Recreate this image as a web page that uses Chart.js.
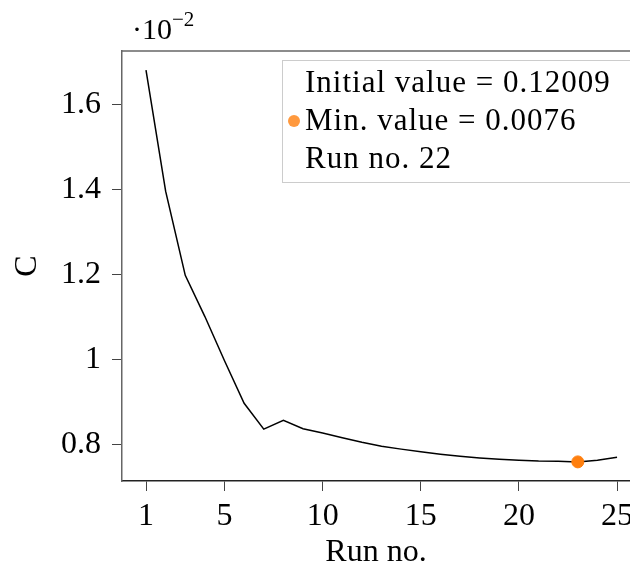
<!DOCTYPE html>
<html>
<head>
<meta charset="utf-8">
<script src="https://cdn.jsdelivr.net/npm/chart.js@4.4.1/dist/chart.umd.min.js"></script>
<style>
  html, body { margin: 0; padding: 0; background: #fff; }
  canvas { display: block; }
</style>
</head>
<body>
<canvas id="cost-chart" width="630" height="572"></canvas>
<script>
// cost per run, in units of 10^-2
var runs = [1, 2, 3, 4, 5, 6, 7, 8, 9, 10, 11, 12, 13, 14, 15, 16, 17, 18, 19, 20, 21, 22, 23, 24, 25];
var costValues = [1.682, 1.397, 1.199, 1.102, 0.998, 0.898, 0.837, 0.858, 0.838, 0.828,
                  0.817, 0.806, 0.797, 0.790, 0.784, 0.778, 0.773, 0.769, 0.766, 0.764,
                  0.762, 0.7615, 0.760, 0.764, 0.771];
var xTicks = [1, 5, 10, 15, 20, 25];
var yTicks = [0.8, 1, 1.2, 1.4, 1.6];
var exponent = -2;

var initialValue = 0.12009;
var minValue = 0.0076;
var minRunIndex = 22;

var serif = "'Liberation Serif', 'DejaVu Serif', serif";

function fixedTicks(list) {
  return function(scale) {
    scale.ticks = list.map(function(v) { return { value: v }; });
  };
}

// legend box drawn inside the plot, top right
var boxLegend = {
  id: 'boxLegend',
  afterDraw: function(chart) {
    var ctx = chart.ctx;
    var area = chart.chartArea;
    var left = area.left + 160;
    var top = area.top + 9;
    var lines = [
      'Initial value = ' + initialValue,
      'Min. value = ' + minValue,
      'Run no. ' + minRunIndex
    ];
    ctx.save();
    ctx.fillStyle = 'rgba(255,255,255,0.8)';
    ctx.fillRect(left, top, 360, 122);
    ctx.strokeStyle = '#cccccc';
    ctx.lineWidth = 1;
    ctx.strokeRect(left + 0.5, top + 0.5, 360, 122);

    ctx.fillStyle = '#000';
    ctx.font = '31px ' + serif;
    ctx.letterSpacing = '1px';
    ctx.textBaseline = 'middle';
    ctx.textAlign = 'left';
    for (var i = 0; i < lines.length; i++) {
      ctx.fillText(lines[i], left + 23, top + 24 + i * 38);
    }
    ctx.letterSpacing = '0px';

    ctx.beginPath();
    ctx.arc(left + 12, top + 61, 6, 0, Math.PI * 2);
    ctx.fillStyle = 'rgba(255,127,14,0.8)';
    ctx.fill();

    // top spine
    ctx.beginPath();
    ctx.moveTo(area.left, area.top);
    ctx.lineTo(area.right, area.top);
    ctx.strokeStyle = '#666';
    ctx.lineWidth = 1.5;
    ctx.stroke();

    // axis multiplier
    ctx.fillStyle = '#000';
    ctx.textBaseline = 'alphabetic';
    ctx.font = '30px ' + serif;
    ctx.fillText('\u00b710', area.left + 10, area.top - 12);
    var w = ctx.measureText('\u00b710').width;
    ctx.font = '21px ' + serif;
    ctx.fillText('\u2212' + Math.abs(exponent), area.left + 10 + w, area.top - 25);
    ctx.restore();
  }
};

document.addEventListener('DOMContentLoaded', function() {
  var lineData = [];
  for (var i = 0; i < runs.length; i++) {
    lineData.push({ x: runs[i], y: costValues[i] });
  }

  new Chart(document.getElementById('cost-chart'), {
    type: 'scatter',
    data: {
      datasets: [{
        data: lineData,
        showLine: true,
        borderColor: '#000',
        borderWidth: 1.5,
        pointRadius: 0,
        tension: 0,
        order: 2
      }, {
        data: [{ x: runs[minRunIndex], y: minValue / Math.pow(10, exponent) }],
        backgroundColor: '#ff7f0e',
        borderColor: '#ff7f0e',
        pointRadius: 6,
        order: 1
      }]
    },
    options: {
      responsive: false,
      animation: false,
      layout: { autoPadding: false, padding: { top: 51, right: 0, bottom: 0, left: 0 } },
      plugins: {
        legend: { display: false },
        tooltip: { enabled: false }
      },
      scales: {
        x: {
          type: 'linear',
          min: -0.223,
          max: 25.66,
          afterBuildTicks: fixedTicks(xTicks),
          afterFit: function(scale) {
            scale.height = 91;
            scale.paddingLeft = 0;
            scale.paddingRight = 0;
          },
          grid: { drawOnChartArea: false, tickLength: 10, tickColor: '#444', tickWidth: 1 },
          border: { color: '#222', width: 1.5 },
          ticks: {
            color: '#000',
            padding: 6,
            maxRotation: 0,
            font: { family: serif, size: 32 },
            callback: function(v) { return String(v); }
          },
          title: {
            display: true,
            text: 'Run no.',
            color: '#000',
            padding: { top: 0, bottom: 0 },
            font: { family: serif, size: 32, lineHeight: 1.2 }
          }
        },
        y: {
          min: 0.715,
          max: 1.727,
          afterBuildTicks: fixedTicks(yTicks),
          afterFit: function(scale) {
            scale.width = 122;
            scale.paddingTop = 0;
            scale.paddingBottom = 0;
          },
          grid: { drawOnChartArea: false, tickLength: 10, tickColor: '#444', tickWidth: 1 },
          border: { color: '#666', width: 1.5 },
          ticks: {
            color: '#000',
            padding: 11,
            font: { family: serif, size: 32 },
            callback: function(v) { return String(v); }
          },
          title: {
            display: true,
            text: 'C',
            color: '#000',
            padding: { top: 8, bottom: 0 },
            font: { family: serif, size: 32, lineHeight: 1.2 }
          }
        }
      }
    },
    plugins: [boxLegend]
  });
});
</script>
</body>
</html>
